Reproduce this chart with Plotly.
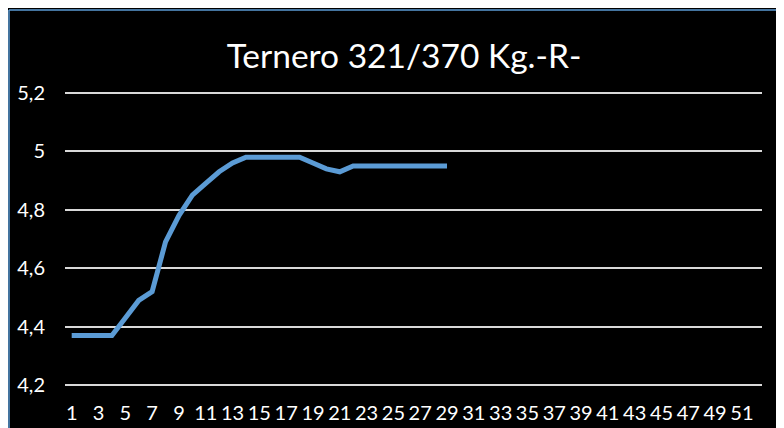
import plotly.graph_objects as go

categories = list(range(1, 53))
values = [4.37, 4.37, 4.37, 4.37, 4.43, 4.49, 4.52, 4.69, 4.78, 4.85,
          4.89, 4.93, 4.96, 4.98, 4.98, 4.98, 4.98, 4.98, 4.96, 4.94,
          4.93, 4.95, 4.95, 4.95, 4.95, 4.95, 4.95, 4.95, 4.95]
x_tick_labels = [str(c) for c in categories if c % 2 == 1]
x_tick_vals = [c for c in categories if c % 2 == 1]
y_ticks = [4.2, 4.4, 4.6, 4.8, 5.0, 5.2]
y_tick_labels = ["4,2", "4,4", "4,6", "4,8", "5", "5,2"]

# page has an 8px body margin; figure sized to fill the rest of the window
W, H = 776, 420
L, R = 57, 22
T, B = 79, 37
pw, ph = W - L - R, H - T - B

def px_x(p):
    return (p - L) / pw

def px_y(p):
    return (H - B - p) / ph

fig = go.Figure()
fig.add_trace(go.Scatter(
    x=categories[:len(values)], y=values, mode="lines",
    line=dict(color="#5B9BD5", width=5), hoverinfo="skip", showlegend=False,
))

shapes = [
    dict(type="line", xref="paper", yref="paper", x0=px_x(1), x1=px_x(W + 5),
         y0=px_y(2), y1=px_y(2), line=dict(color="#5B9BD5", width=1.5), layer="below"),
    dict(type="line", xref="paper", yref="paper", x0=px_x(1), x1=px_x(1),
         y0=px_y(2), y1=px_y(H + 5), line=dict(color="#5B9BD5", width=1.5), layer="below"),
]

fig.update_layout(
    width=W, height=H,
    margin=dict(l=L, r=R, t=T, b=B, autoexpand=False),
    paper_bgcolor="black", plot_bgcolor="black",
    separators=",.",
    font=dict(family="Lato, Open Sans, sans-serif", color="white", size=20),
    title=dict(text="Ternero 321/370 Kg.-R-", x=396 / W, xanchor="center",
               y=1 - 48 / H, yanchor="middle",
               font=dict(size=33.5, color="white", family="Lato, Open Sans, sans-serif")),
    shapes=shapes,
    xaxis=dict(range=[0.5, 52.5], tickvals=x_tick_vals, ticktext=x_tick_labels,
               showgrid=False, zeroline=False, showline=False, automargin=False,
               ticks="outside", ticklen=4, tickcolor="black",
               tickfont=dict(size=20, color="white")),
    yaxis=dict(range=[4.18, 5.22], tickvals=y_ticks, ticktext=y_tick_labels,
               showgrid=True, gridcolor="#D9D9D9", gridwidth=1.5,
               zeroline=False, showline=False, automargin=False,
               ticks="outside", ticklen=15, tickcolor="black",
               tickfont=dict(size=20, color="white")),
)

fig.write_html("out.html")
